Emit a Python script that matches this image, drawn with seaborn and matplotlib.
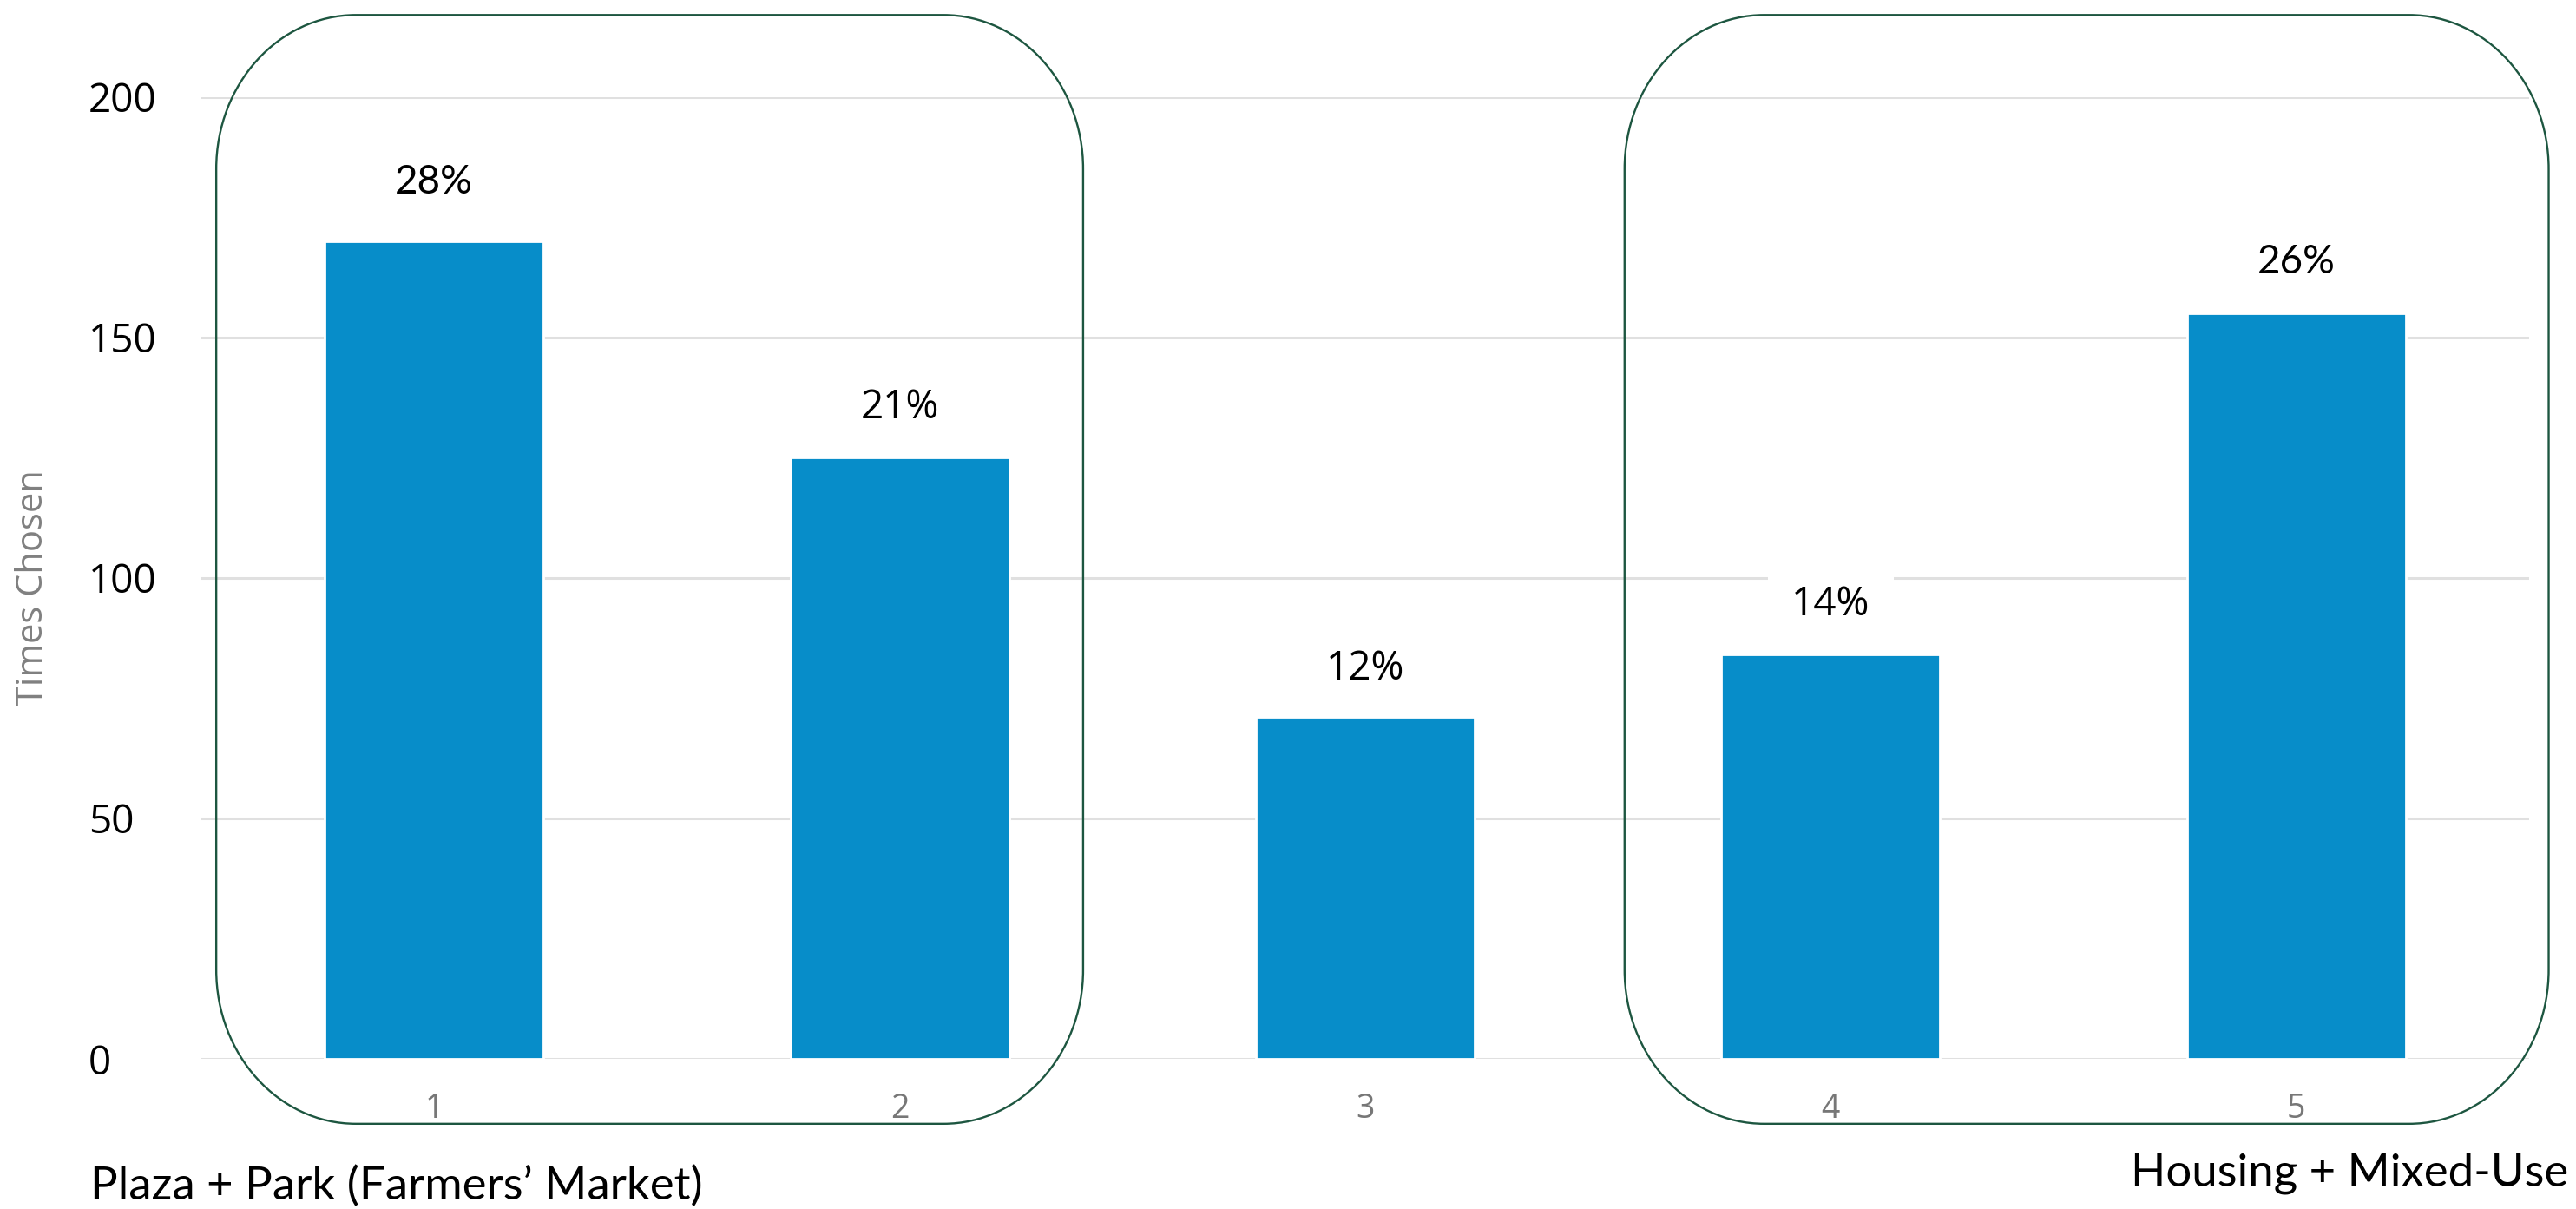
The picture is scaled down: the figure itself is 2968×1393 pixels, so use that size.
import matplotlib
matplotlib.use("Agg")
import matplotlib.pyplot as plt
from matplotlib.path import Path
from matplotlib.patches import PathPatch
import seaborn as sns
import pandas as pd

# Survey results: how often each option was chosen
options = ["1", "2", "3", "4", "5"]
times_chosen = [170, 125, 71, 84, 155]
y_ticks = [0, 50, 100, 150, 200]
group_left = "Plaza + Park (Farmers\u2019 Market)"
group_right = "Housing + Mixed-Use"

shares = [round(100 * v / sum(times_chosen)) for v in times_chosen]
df = pd.DataFrame({"option": options, "times": times_chosen})

sns.set_theme(style="white")
plt.rcParams["font.family"] = ["Lato", "DejaVu Sans"]

BAR = "#078DC9"
FRAME = "#1D5640"
GRID = "#E0E0E0"
SANS = ["Open Sans", "DejaVu Sans"]

W, H = 2968, 1393
DPI = 200
fig = plt.figure(figsize=(W / DPI, H / DPI), dpi=DPI)
ax = fig.add_axes([232 / W, 1 - 1220 / H, (2914 - 232) / W, (1220 - 111.5) / H])

sns.barplot(data=df, x="option", y="times", color=BAR, width=0.47,
            saturation=1, ax=ax, zorder=2)

ax.set_xlim(-0.5, 4.5)
ax.set_ylim(0, 200)
ax.set_yticks(y_ticks)
ax.yaxis.grid(True, color=GRID, lw=1.1)
ax.xaxis.grid(False)
ax.set_axisbelow(True)
for s in ax.spines.values():
    s.set_visible(False)

# y tick labels sit flush-left in the margin
ax.tick_params(axis="y", length=0, pad=46.8, labelsize=16.5, labelcolor="black")
for lab in ax.get_yticklabels():
    lab.set_horizontalalignment("left")
    lab.set_fontfamily(SANS)
ax.tick_params(axis="x", length=0, pad=14, labelsize=13.5, labelcolor="#777777")
for lab in ax.get_xticklabels():
    lab.set_fontfamily(SANS)

ax.set_xlabel("")
ylab = ax.set_ylabel("Times Chosen", fontsize=15, color="#808080", fontfamily=SANS)
ylab.set_verticalalignment("center")
ax.yaxis.set_label_coords(-0.0725, 0.49)

# Percentage share above each bar
label_fonts = [["Lato"], ["Open Sans"], ["Open Sans"], ["Open Sans"], ["Lato"]]
label_gap = [12.3, 10.3, 10.0, 10.3, 10.6]
for i, (v, p) in enumerate(zip(times_chosen, shares)):
    ax.text(i, v + label_gap[i], f"{p}%", ha="center", va="center",
            fontsize=16.5, color="black", fontfamily=label_fonts[i] + ["DejaVu Sans"],
            zorder=3,
            bbox=dict(boxstyle="square,pad=0.6", fc="white", ec="none"))


def rounded_frame(ax, x0, x1, y0, y1, rx, ry, **kw):
    k = 0.5523
    M, L, C = Path.MOVETO, Path.LINETO, Path.CURVE4
    verts = [
        (x0 + rx, y1), (x1 - rx, y1),
        (x1 - rx + k * rx, y1), (x1, y1 - ry + k * ry), (x1, y1 - ry),
        (x1, y0 + ry),
        (x1, y0 + ry - k * ry), (x1 - rx + k * rx, y0), (x1 - rx, y0),
        (x0 + rx, y0),
        (x0 + rx - k * rx, y0), (x0, y0 + ry - k * ry), (x0, y0 + ry),
        (x0, y1 - ry),
        (x0, y1 - ry + k * ry), (x0 + rx - k * rx, y1), (x0 + rx, y1),
    ]
    codes = [M, L, C, C, C, L, C, C, C, L, C, C, C, L, C, C, C]
    patch = PathPatch(Path(verts, codes), fill=False, clip_on=False, **kw)
    ax.add_patch(patch)


rounded_frame(ax, -0.468, 1.394, -13.5, 217, 0.30, 32, ec=FRAME, lw=0.85, zorder=4)
rounded_frame(ax, 2.557, 4.542, -13.5, 217, 0.30, 32, ec=FRAME, lw=0.85, zorder=4)

fig.text(104 / W, 1 - 1367 / H, group_left, ha="left", va="center",
         fontsize=19, color="black")
fig.text(2959 / W, 1 - 1352 / H, group_right, ha="right", va="center",
         fontsize=19, color="black")

fig.savefig("out.png", dpi=DPI)
